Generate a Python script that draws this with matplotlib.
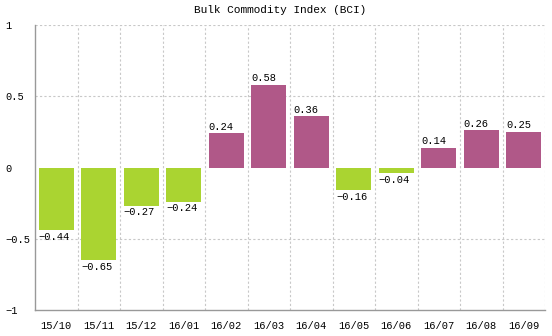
import numpy as np
import matplotlib.pyplot as plt

plt.rcParams['font.family'] = ['Liberation Mono', 'DejaVu Sans Mono']

months = ['15/10', '15/11', '15/12', '16/01', '16/02', '16/03',
          '16/04', '16/05', '16/06', '16/07', '16/08', '16/09']
bci = [-0.44, -0.65, -0.27, -0.24, 0.24, 0.58, 0.36, -0.16, -0.04, 0.14, 0.26, 0.25]

green = '#AAD431'
purple = '#B05888'
grid_c = '#c8c8c8'

fig = plt.figure(figsize=(5.52, 3.36), dpi=100)
ax = fig.add_axes([35/552, 1-310/336, 510/552, 285/336])

x = np.arange(len(months))
cols = [purple if v > 0 else green for v in bci]
w = 0.82
ax.bar(x, bci, width=w, color=cols, zorder=2)

for xi, v in zip(x, bci):
    lbl = '%.2f' % v
    if v >= 0:
        ax.text(xi - w/2, v + 0.01, lbl, ha='left', va='bottom', fontsize=7.5, zorder=3)
    else:
        ax.text(xi - w/2, v - 0.01, lbl.replace('-', '\u2212'), ha='left', va='top',
                fontsize=7.5, zorder=3)

ax.set_xlim(-0.5, len(months) - 0.5)
ax.set_ylim(-1, 1)

# dashed grid: horizontal at +-0.5 and top, vertical at category boundaries
for yv in [0.5, -0.5, 1]:
    ax.axhline(yv, color=grid_c, ls=(0, (2, 2)), lw=0.8, zorder=1)
for b in np.arange(0.5, len(months), 1.0):
    ax.axvline(b, color=grid_c, ls=(0, (2, 2)), lw=0.8, zorder=1)

for s in ['top', 'right']:
    ax.spines[s].set_visible(False)
for s in ['left', 'bottom']:
    ax.spines[s].set_color('#999999')
    ax.spines[s].set_linewidth(1.0)

ax.set_xticks(x)
ax.set_xticklabels(months, fontsize=7.5)
ax.set_yticks([-1, -0.5, 0, 0.5, 1])
ax.set_yticklabels(['\u22121', '\u22120.5', '0', '0.5', '1'], fontsize=7.5, ha='left')
ax.tick_params(axis='y', length=0, pad=21.6)
ax.tick_params(axis='x', length=0, pad=8)

fig.text(280/552, 1-10/336, 'Bulk Commodity Index (BCI)', ha='center', va='center', fontsize=8)

fig.savefig('out.png', dpi=100, facecolor='white')
